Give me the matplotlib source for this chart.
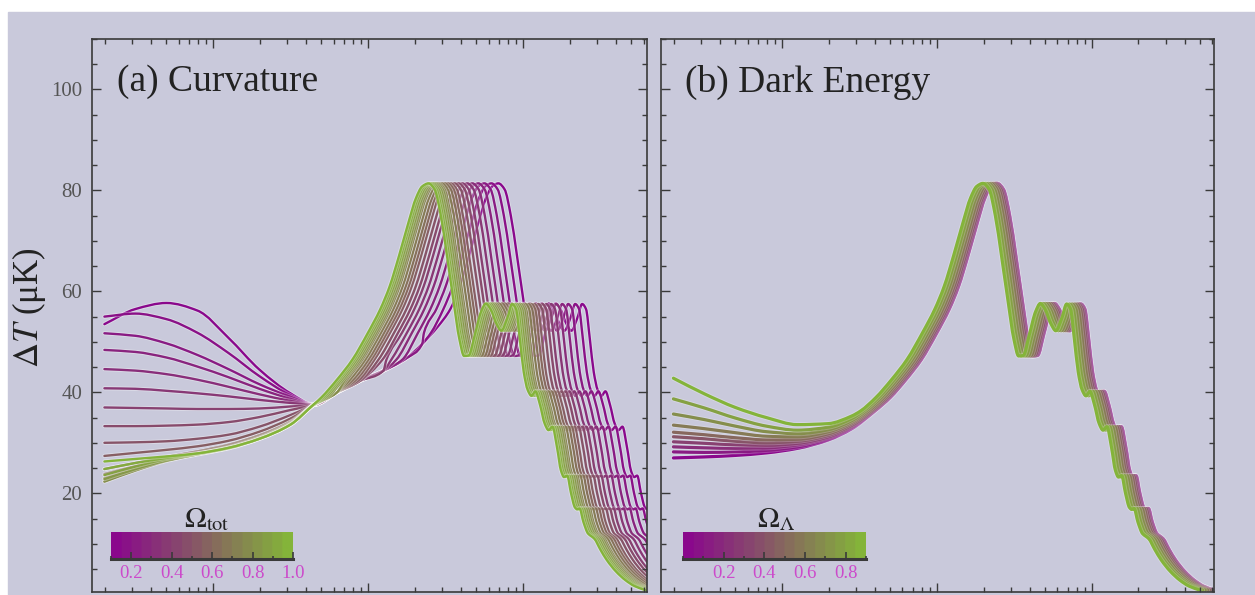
import numpy as np
import matplotlib
matplotlib.use("Agg")
import matplotlib.pyplot as plt
import matplotlib.patheffects as pe
from matplotlib.colors import LinearSegmentedColormap, Normalize
from matplotlib.patches import Rectangle, PathPatch
from matplotlib.path import Path
from matplotlib.ticker import LogLocator, MultipleLocator, NullFormatter

plt.rcParams["font.family"] = ["Liberation Serif", "DejaVu Serif"]
plt.rcParams["mathtext.fontset"] = "stix"

# flat (Omega_tot = 1, Omega_Lambda = 0) spectrum above l ~ 40, log10(l) vs dT [uK]
BASE_L = np.array([1.60, 1.70, 1.80, 1.90, 2.00, 2.08, 2.14, 2.20, 2.26, 2.31,
                   2.35, 2.39, 2.43, 2.47, 2.51, 2.55, 2.59, 2.62, 2.65, 2.69,
                   2.73, 2.76, 2.79, 2.83, 2.86, 2.90, 2.93, 2.955, 2.98, 3.005,
                   3.03, 3.055, 3.08, 3.11, 3.14, 3.165, 3.19, 3.22, 3.245, 3.265,
                   3.285, 3.31, 3.335, 3.35, 3.365, 3.39, 3.42, 3.44, 3.46, 3.50,
                   3.54, 3.60, 3.66, 3.72, 3.79])
BASE_T = np.array([36.3, 39.0, 42.5, 46.5, 51.8, 56.5, 61.0, 67.0, 73.5, 78.5,
                   80.8, 81.4, 80.2, 75.0, 67.0, 58.5, 50.5, 47.2, 47.3, 51.5,
                   56.0, 57.6, 56.5, 53.5, 52.2, 54.8, 57.5, 56.5, 50.5, 44.0,
                   40.5, 39.3, 40.2, 37.5, 33.8, 32.5, 33.2, 29.0, 24.5, 23.2,
                   23.5, 20.0, 17.2, 16.8, 17.0, 14.3, 12.0, 11.5, 11.0, 8.8,
                   6.8, 4.5, 2.8, 1.6, 0.8])
FLAT_PEAK_ELL = 245.0

# (a) curvature: Omega_tot, first peak position, low-l values
omega_tot = [0.10, 0.15, 0.20, 0.25, 0.30, 0.35, 0.40, 0.45, 0.50, 0.55,
             0.60, 0.65, 0.70, 0.75, 0.80, 0.85, 0.90, 0.95, 1.00]
peak_ell_tot = [693, 625, 563, 515, 471, 437, 406, 383, 361, 340,
                325, 311, 297, 284, 276, 268, 260, 252, 245]
LOW_L = [0.30, 0.50, 0.70, 0.90, 1.10, 1.30, 1.50, 1.65]
low_t_tot = [
    [53.5, 56.5, 57.7, 56.2, 50.8, 44.5, 39.8, 37.6],
    [55.0, 55.6, 54.5, 51.8, 47.8, 43.2, 39.4, 37.5],
    [51.7, 51.2, 49.7, 47.4, 44.6, 41.6, 39.1, 37.5],
    [48.4, 48.0, 46.9, 45.1, 43.0, 40.7, 38.7, 37.5],
    [44.6, 44.3, 43.6, 42.5, 41.1, 39.6, 38.3, 37.5],
    [40.8, 40.7, 40.3, 39.8, 39.2, 38.5, 37.9, 37.5],
    [37.0, 36.9, 36.8, 36.7, 36.7, 36.8, 37.2, 37.5],
    [33.3, 33.3, 33.4, 33.6, 34.1, 35.1, 36.5, 37.5],
    [30.0, 30.1, 30.3, 30.8, 31.6, 33.2, 35.5, 37.5],
    [27.4, 28.0, 28.6, 29.3, 30.4, 32.2, 34.8, 37.5],
    [24.8, 26.0, 27.2, 28.3, 29.6, 31.5, 34.2, 37.5],
    [23.8, 25.4, 26.9, 28.1, 29.4, 31.3, 34.0, 37.5],
    [23.0, 25.0, 26.7, 27.9, 29.2, 31.1, 33.9, 37.5],
    [22.4, 24.6, 26.5, 27.8, 29.1, 31.0, 33.8, 37.5],
    [22.3, 24.5, 26.4, 27.7, 29.0, 30.9, 33.7, 37.5],
    [22.8, 24.8, 26.5, 27.7, 28.9, 30.8, 33.6, 37.5],
    [23.6, 25.3, 26.8, 27.8, 28.9, 30.8, 33.6, 37.5],
    [24.8, 26.0, 27.0, 27.9, 29.0, 30.8, 33.6, 37.6],
    [26.3, 26.8, 27.3, 27.9, 29.0, 30.8, 33.6, 37.6],
]
# slow rise of the open models on their way to the first peak
FLOOR_L = np.array([1.65, 1.80, 1.95, 2.10, 2.25, 2.35, 2.45])
FLOOR_T = np.array([37.5, 40.0, 42.3, 44.3, 46.8, 49.6, 53.0])

# (b) dark energy: Omega_Lambda, first peak position, low-l values
omega_lambda = [0.0, 0.1, 0.2, 0.3, 0.4, 0.5, 0.6, 0.7, 0.8, 0.9]
peak_ell_lam = [245, 244, 242, 239, 235, 229, 222, 214, 206, 198]
LOW_L_DE = [0.30, 0.50, 0.70, 0.90, 1.10, 1.30, 1.45]
low_t_lam = [
    [27.0, 27.2, 27.5, 28.0, 28.9, 30.6, 32.8],
    [28.2, 28.1, 28.2, 28.5, 29.2, 30.8, 33.0],
    [29.2, 29.0, 28.9, 29.0, 29.6, 31.0, 33.1],
    [30.2, 29.9, 29.6, 29.5, 29.9, 31.2, 33.3],
    [31.2, 30.8, 30.3, 30.0, 30.3, 31.5, 33.5],
    [32.1, 31.6, 31.0, 30.6, 30.7, 31.8, 33.8],
    [33.5, 32.8, 32.0, 31.3, 31.2, 32.2, 34.1],
    [35.7, 34.6, 33.3, 32.2, 31.8, 32.6, 34.4],
    [38.7, 36.9, 34.9, 33.3, 32.5, 33.1, 34.8],
    [42.8, 39.7, 37.0, 35.0, 33.6, 33.8, 35.3],
]

LAVENDER = "#c9c9db"
INK = "#3a3a3a"
cmap = LinearSegmentedColormap.from_list("pg", ["#8a088c", "#84b43a"])
cmap_steps = LinearSegmentedColormap.from_list("pg18", ["#8a088c", "#84b43a"], N=18)


def curvature_curve(low_t, peak):
    s = np.log10(peak / FLAT_PEAK_ELL)
    bl = BASE_L + s
    above = (bl > LOW_L[-1]) & (BASE_T > np.interp(bl, FLOOR_L, FLOOR_T))
    i0 = np.argmax(above)
    fmask = (FLOOR_L > LOW_L[-1]) & (FLOOR_L < bl[i0])
    l = np.concatenate([LOW_L, FLOOR_L[fmask], bl[i0:]])
    t = np.concatenate([low_t, FLOOR_T[fmask], BASE_T[i0:]])
    return l, t


def dark_energy_curve(low_t, peak):
    e = np.log10(peak / FLAT_PEAK_ELL)
    l = np.concatenate([LOW_L_DE, BASE_L + e])
    t = np.concatenate([low_t, BASE_T])
    return l, t


def smooth_path(u, v):
    # monotone cubic (pchip-style) bezier through the points, u = log10(l)
    h = np.diff(u)
    d = np.diff(v) / h
    m = np.zeros_like(v)
    m[0], m[-1] = d[0], d[-1]
    for k in range(1, len(v) - 1):
        if d[k - 1] * d[k] > 0:
            w1 = 2 * h[k] + h[k - 1]
            w2 = h[k] + 2 * h[k - 1]
            m[k] = (w1 + w2) / (w1 / d[k - 1] + w2 / d[k])
    verts = [(u[0], v[0])]
    for k in range(len(h)):
        verts += [(u[k] + h[k] / 3, v[k] + m[k] * h[k] / 3),
                  (u[k + 1] - h[k] / 3, v[k + 1] - m[k + 1] * h[k] / 3),
                  (u[k + 1], v[k + 1])]
    verts = np.array(verts)
    verts[:, 0] = 10 ** verts[:, 0]
    codes = [Path.MOVETO] + [Path.CURVE4] * (3 * len(h))
    return Path(verts, codes)


def draw_curve(ax, l, t, color, lw, halo_alpha):
    patch = PathPatch(smooth_path(l, t), fill=False, edgecolor=color, lw=lw,
                      capstyle="round", joinstyle="round",
                      path_effects=[pe.Stroke(linewidth=lw + 1.3,
                                              foreground=(1, 1, 1, halo_alpha)),
                                    pe.Normal()])
    ax.add_patch(patch)


def style_axes(ax, xmax_log):
    ax.set_facecolor("none")
    ax.set_xscale("log")
    ax.set_xlim(10 ** 0.22, 10 ** xmax_log)
    ax.set_ylim(0.5, 110)
    ax.xaxis.set_major_locator(LogLocator(base=10, numticks=10))
    ax.xaxis.set_minor_locator(LogLocator(base=10, subs=np.arange(2, 10), numticks=40))
    ax.xaxis.set_major_formatter(NullFormatter())
    ax.xaxis.set_minor_formatter(NullFormatter())
    ax.yaxis.set_major_locator(MultipleLocator(20))
    ax.yaxis.set_minor_locator(MultipleLocator(5))
    ax.tick_params(which="both", direction="in", top=True, right=True,
                   color=INK, width=1.0, labelsize=15, labelcolor="#555555", pad=7)
    ax.tick_params(which="major", length=6.5)
    ax.tick_params(which="minor", length=3.6)
    for sp in ax.spines.values():
        sp.set_color(INK)
        sp.set_linewidth(1.2)


def add_colorbar(fig, rect, lo, hi, labels, title, title_x):
    cax = fig.add_axes(rect)
    grad = np.linspace(lo, hi, 256)[np.newaxis, :]
    cax.imshow(grad, extent=[lo, hi, 0, 1], aspect="auto", cmap=cmap_steps,
               vmin=lo, vmax=hi)
    cax.set_xlim(lo, hi)
    cax.set_ylim(0, 1)
    cax.set_yticks([])
    cax.set_xticks(labels)
    cax.set_xticklabels([f"{v:.1f}" for v in labels])
    cax.xaxis.set_minor_locator(MultipleLocator(0.1))
    cax.tick_params(axis="x", which="both", direction="in", color=INK, width=1.2,
                    labelsize=13.5, labelcolor="#cc4acb", pad=4)
    cax.tick_params(axis="x", which="major", length=5)
    cax.tick_params(axis="x", which="minor", length=2.5)
    for name, sp in cax.spines.items():
        sp.set_visible(name == "bottom")
    cax.spines["bottom"].set_color(INK)
    cax.spines["bottom"].set_linewidth(2.2)
    fig.text(title_x, (595 - 527) / 595, title, fontsize=21, ha="center",
             va="baseline", color="#222222")


fig = plt.figure(figsize=(12.55, 5.95), dpi=100, facecolor="white")
fig.patches.append(Rectangle((8 / 1255, 0), 1, (595 - 12) / 595,
                             transform=fig.transFigure, color=LAVENDER, zorder=-10))

ax_a = fig.add_axes([92 / 1255, 3.3 / 595, 555 / 1255, 552.7 / 595])
ax_b = fig.add_axes([661 / 1255, 3.3 / 595, 552.5 / 1255, 552.7 / 595])
style_axes(ax_a, 3.80)
style_axes(ax_b, 3.785)
ax_b.tick_params(labelleft=False)

norm_a = Normalize(0.1, 1.0)
for om, pk, lt in zip(omega_tot, peak_ell_tot, low_t_tot):
    l, t = curvature_curve(lt, pk)
    draw_curve(ax_a, l, t, cmap(norm_a(om)), 1.7, 0.35)

norm_b = Normalize(0.0, 0.9)
for ol, pk, lt in zip(omega_lambda, peak_ell_lam, low_t_lam):
    l, t = dark_energy_curve(lt, pk)
    draw_curve(ax_b, l, t, cmap(norm_b(ol)), 2.3, 0.25)

ax_a.text(0.045, 0.922, "(a) Curvature", transform=ax_a.transAxes,
          fontsize=27, va="center", color="#222222")
ax_b.text(0.043, 0.922, "(b) Dark Energy", transform=ax_b.transAxes,
          fontsize=27, va="center", color="#222222")
fig.text(29 / 1255, (595 - 308) / 595, r"$\Delta T$ (μK)", rotation=90,
         fontsize=25, ha="center", va="center", color="#222222")

add_colorbar(fig, [111 / 1255, (595 - 559) / 595, 182 / 1255, 27 / 595],
             0.1, 1.0, [0.2, 0.4, 0.6, 0.8, 1.0], r"$\Omega_{\rm tot}$", 207 / 1255)
add_colorbar(fig, [683 / 1255, (595 - 559) / 595, 183 / 1255, 27 / 595],
             0.0, 0.9, [0.2, 0.4, 0.6, 0.8], r"$\Omega_{\Lambda}$", 776 / 1255)

fig.savefig("out.png", dpi=100, facecolor="white")
